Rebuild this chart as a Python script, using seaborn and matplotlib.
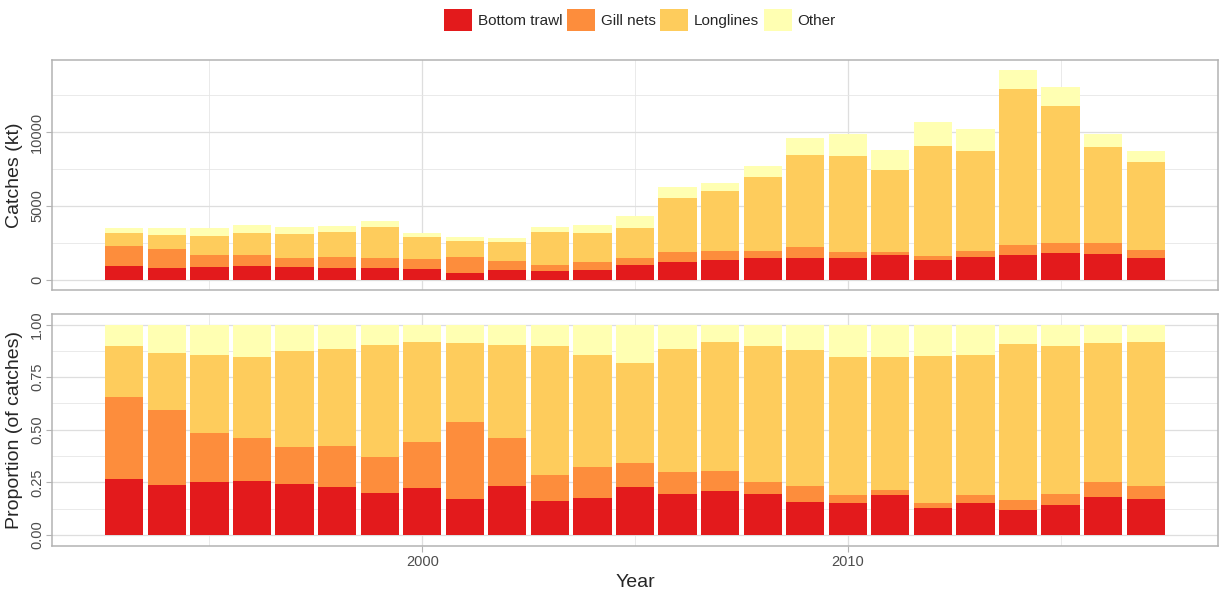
import matplotlib
matplotlib.use("Agg")
import matplotlib.pyplot as plt
from matplotlib.patches import Patch
from matplotlib.ticker import MultipleLocator
import seaborn as sns
import pandas as pd

# --- data (kt) ---
years = list(range(1993, 2018))
bottom_trawl = [930, 830, 880, 950, 870, 830, 790, 710, 500, 660, 580, 650, 980,
                1220, 1370, 1490, 1500, 1500, 1670, 1370, 1550, 1670, 1850, 1780, 1490]
gill_nets = [1370, 1260, 820, 760, 630, 710, 680, 690, 1060, 650, 440, 550, 490,
             660, 620, 440, 730, 380, 200, 260, 390, 680, 680, 700, 530]
longlines = [860, 950, 1300, 1440, 1630, 1690, 2130, 1520, 1100, 1260, 2210, 1990, 2050,
             3690, 4010, 5000, 6190, 6490, 5580, 7430, 6760, 10560, 9210, 6500, 5950]
other = [350, 470, 510, 570, 460, 420, 380, 260, 250, 270, 360, 530, 800,
         720, 560, 770, 1180, 1500, 1340, 1620, 1500, 1280, 1300, 890, 740]

gears = ["Bottom trawl", "Gill nets", "Longlines", "Other"]
colors = ["#E31A1C", "#FD8D3C", "#FECC5C", "#FFFFB2"]

df = pd.DataFrame({
    "Year": years * 4,
    "Gear": [g for g in gears for _ in years],
    "Catch": bottom_trawl + gill_nets + longlines + other,
})

sns.set_style("white")
plt.rcParams["font.family"] = ["Liberation Sans", "DejaVu Sans"]

fig = plt.figure(figsize=(12.2, 5.91), dpi=100)
ax1 = fig.add_axes([52 / 1220, 1 - 290.5 / 591, 1166 / 1220, 231 / 591])
ax2 = fig.add_axes([52 / 1220, 1 - 545.5 / 591, 1166 / 1220, 231.5 / 591])

# seaborn puts the first hue level on top of the stack, so reverse the order
palette = dict(zip(gears, colors))
for ax, mult in [(ax1, "stack"), (ax2, "fill")]:
    sns.histplot(data=df, x="Year", weights="Catch", hue="Gear", hue_order=gears[::-1],
                 multiple=mult, discrete=True, shrink=0.9, palette=palette,
                 alpha=1, linewidth=0, legend=False, ax=ax)

for ax in (ax1, ax2):
    ax.set_xlim(1991.3, 2018.7)
    ax.xaxis.set_major_locator(MultipleLocator(10))
    ax.xaxis.set_minor_locator(MultipleLocator(5))
    ax.grid(which="major", color="#DEDEDE", linewidth=0.9)
    ax.grid(which="minor", color="#E6E6E6", linewidth=0.6)
    ax.set_axisbelow(True)
    for s in ax.spines.values():
        s.set_color("#B3B3B3")
        s.set_linewidth(1.1)
    ax.tick_params(which="major", length=4, color="#B3B3B3", labelsize=10.5,
                   labelcolor="#4D4D4D", left=True, bottom=True, pad=2.5)
    ax.tick_params(which="minor", length=0)
    ax.tick_params(axis="y", labelrotation=90, pad=1.5)

ax1.set_ylim(-709, 14897)
ax1.yaxis.set_major_locator(MultipleLocator(5000))
ax1.yaxis.set_minor_locator(MultipleLocator(2500))
ax1.tick_params(axis="x", which="both", bottom=False, labelbottom=False)
ax1.set_xlabel("")
ax1.set_ylabel("Catches (kt)", fontsize=14)

ax2.set_ylim(-0.05, 1.05)
ax2.yaxis.set_major_locator(MultipleLocator(0.25))
ax2.yaxis.set_minor_locator(MultipleLocator(0.125))
ax2.yaxis.set_major_formatter(lambda v, p: f"{v:.2f}")
ax2.set_ylabel("Proportion (of catches)", fontsize=14)
ax2.set_xlabel("Year", fontsize=14)

for ax in (ax1, ax2):
    for lbl in ax.get_yticklabels():
        lbl.set_va("center")
    ax.yaxis.set_label_coords(-0.0245, 0.5)

handles = [Patch(facecolor=c, edgecolor="none", label=g) for g, c in zip(gears, colors)]
fig.legend(handles=handles, loc="upper center", bbox_to_anchor=(0.5246, 1.0), ncol=4,
           frameon=False, fontsize=11, handlelength=1.83, handleheight=1.83,
           handletextpad=0.38, columnspacing=0.3, borderpad=0.1)

fig.savefig("out.png", dpi=100)
